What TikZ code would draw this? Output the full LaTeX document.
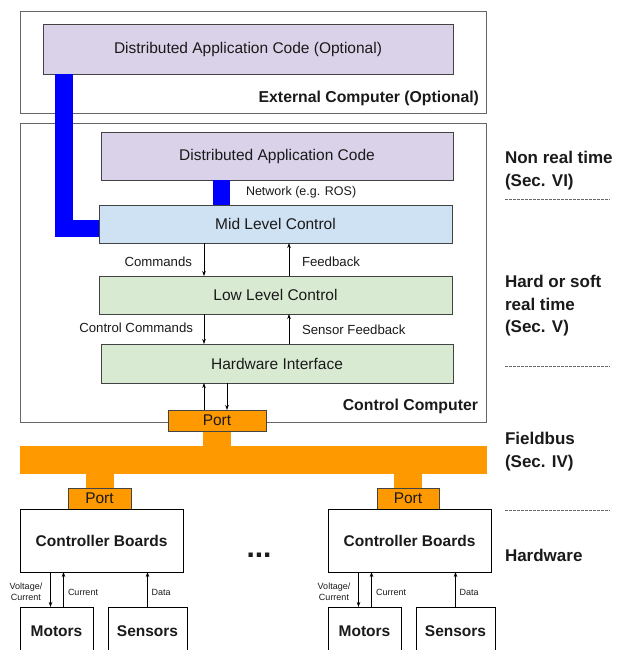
\documentclass[tikz,border=0pt]{standalone}
\usepackage{fontspec}
\setmainfont{Liberation Sans}
\usetikzlibrary{arrows.meta,backgrounds}
\definecolor{purp}{HTML}{D9D2E9}
\definecolor{lblue}{HTML}{CFE2F3}
\definecolor{lgreen}{HTML}{D9EAD3}
\definecolor{orng}{HTML}{FF9900}
\definecolor{bblue}{HTML}{0000FF}
\definecolor{outer}{HTML}{666666}
\definecolor{edge}{HTML}{434343}
\definecolor{txt}{HTML}{1A1A1A}
\begin{document}
\begin{tikzpicture}[x=1pt,y=-1pt,
  every node/.style={inner sep=0pt, outer sep=0pt, text=txt},
  frame/.style={draw=outer, line width=0.8pt, anchor=north west},
  blk/.style={draw=edge, line width=0.8pt, anchor=north west, font=\fontsize{15.5}{18}\selectfont},
  bblk/.style={draw=black, line width=0.9pt, anchor=north west, font=\bfseries\fontsize{15.5}{18}\selectfont},
  portbox/.style={draw=edge, fill=orng, line width=0.8pt, anchor=north west, minimum height=21pt, font=\fontsize{15.5}{18}\selectfont},
  lbl/.style={font=\fontsize{13.2}{15}\selectfont},
  tinylbl/.style={font=\fontsize{9}{10.7}\selectfont, align=center},
  side/.style={anchor=base west, font=\bfseries\fontsize{17}{20}\selectfont},
  frlbl/.style={anchor=east, font=\bfseries\fontsize{15.8}{18}\selectfont},
  arr/.style={draw=black, line width=0.6pt, -{Stealth[length=5pt,width=3.5pt]}},
  net/.style={draw=bblue, line width=17.5pt},
  stem/.style={draw=orng, line width=28pt},
  sep/.style={draw=outer, dash pattern=on 2.5pt off 1.5pt, line width=0.6pt},
]
\useasboundingbox (0,0) rectangle (628,650);
\clip (0,0) rectangle (628,650);

% frames
\node[frame, minimum width=466pt, minimum height=102pt] (ext) at (20,11) {};
\node[frame, minimum width=466pt, minimum height=299pt] (ctrl) at (20,123) {};

% software boxes
\node[blk, fill=purp, minimum width=410pt, minimum height=50pt] (dacopt) at (43,24) {Distributed Application Code (Optional)};
\node[blk, fill=purp, minimum width=352pt, minimum height=48pt] (dac) at (101,132) {Distributed Application Code};
\node[blk, fill=lblue, minimum width=353pt, minimum height=38pt] (mid) at (99,205) {Mid Level Control};
\node[blk, fill=lgreen, minimum width=353pt, minimum height=38pt] (low) at (99,276) {Low Level Control};
\node[blk, fill=lgreen, minimum width=352pt, minimum height=39pt] (hw) at (101,344) {Hardware Interface};

\node[frlbl] (extlbl) at (479,98) {External Computer (Optional)};
\node[frlbl] (ctrllbl) at (478,406) {Control Computer};

% ports and bus
\node[portbox, minimum width=98pt] (port0) at (168,410) {Port};
\node[anchor=north west, fill=orng, minimum width=467pt, minimum height=28pt] (bus) at (20,446) {};
\node[portbox, minimum width=63pt] (port1) at (68,488) {Port};
\node[portbox, minimum width=62pt] (port2) at (377,488) {Port};

% hardware
\node[bblk, minimum width=163pt, minimum height=63pt] (cb1) at (20,509) {Controller Boards};
\node[bblk, minimum width=163pt, minimum height=63pt] (cb2) at (328,509) {Controller Boards};
\node[bblk, minimum width=73pt, minimum height=48pt] (mot1) at (20,607) {Motors};
\node[bblk, minimum width=79pt, minimum height=48pt] (sen1) at (108,607) {Sensors};
\node[bblk, minimum width=73pt, minimum height=48pt] (mot2) at (328,607) {Motors};
\node[bblk, minimum width=79pt, minimum height=48pt] (sen2) at (416,607) {Sensors};
\node[font=\bfseries\fontsize{30}{32}\selectfont] (dots) at (259,555) {...};

% stems (behind)
\begin{scope}[on background layer]
\draw[stem] (port0.south) -- (port0.south |- bus.north);
\draw[stem] (bus.south -| port1.north) -- (port1.north);
\draw[stem] (bus.south -| port2.north) -- (port2.north);
\end{scope}

% network connectors
\coordinate (bl) at (64,228.5);
\coordinate (nb) at (221,0);
\draw[net] (dacopt.south -| bl) |- (mid.west |- bl);
\draw[net, line width=17pt] (dac.south -| nb) -- (mid.north -| nb);

% control arrows
\coordinate (xa) at (204,0);
\coordinate (xb) at (289,0);
\coordinate (xc) at (227,0);
\draw[arr] (mid.south -| xa) -- (low.north -| xa);
\draw[arr] (low.north -| xb) -- (mid.south -| xb);
\draw[arr] (low.south -| xa) -- (hw.north -| xa);
\draw[arr] (hw.north -| xb) -- (low.south -| xb);
\draw[arr] (port0.north -| xa) -- (hw.south -| xa);
\draw[arr] (hw.south -| xc) -- (port0.north -| xc);

\node[lbl, anchor=west, font=\fontsize{12.5}{15}\selectfont] (lnet) at (246,192) {Network (e.g. ROS)};
\node[lbl, anchor=east] (lcmd) at (192,262) {Commands};
\node[lbl, anchor=west] (lfb) at (302,262) {Feedback};
\node[lbl, anchor=east] (lccmd) at (193,328) {Control Commands};
\node[lbl, anchor=west] (lsfb) at (302,330) {Sensor Feedback};

% hardware arrows
\coordinate (h1) at (50.5,0);
\coordinate (h2) at (63.5,0);
\coordinate (h3) at (147.5,0);
\coordinate (h4) at (358.5,0);
\coordinate (h5) at (371.5,0);
\coordinate (h6) at (455.5,0);
\draw[arr] (cb1.south -| h1) -- (mot1.north -| h1);
\draw[arr] (mot1.north -| h2) -- (cb1.south -| h2);
\draw[arr] (sen1.north -| h3) -- (cb1.south -| h3);
\draw[arr] (cb2.south -| h4) -- (mot2.north -| h4);
\draw[arr] (mot2.north -| h5) -- (cb2.south -| h5);
\draw[arr] (sen2.north -| h6) -- (cb2.south -| h6);

\node[tinylbl] (lv1) at (26,591.5) {Voltage/\\Current};
\node[tinylbl, anchor=west] (lc1) at (68,592.5) {Current};
\node[tinylbl, anchor=west] (ld1) at (151.5,592.5) {Data};
\node[tinylbl] (lv2) at (334,591.5) {Voltage/\\Current};
\node[tinylbl, anchor=west] (lc2) at (376,592.5) {Current};
\node[tinylbl, anchor=west] (ld2) at (459.5,592.5) {Data};

% side labels
\node[side] (s1) at (505,163) {Non real time};
\node[side] (s2) at (505,186) {(Sec. VI)};
\node[side] (s3) at (505,287) {Hard or soft};
\node[side] (s4) at (505,310) {real time};
\node[side] (s5) at (505,332) {(Sec. V)};
\node[side] (s6) at (505,444) {Fieldbus};
\node[side] (s7) at (505,467) {(Sec. IV)};
\node[side] (s8) at (505,561) {Hardware};

\draw[sep] (505,199) -- (610,199);
\draw[sep] (505,366) -- (610,366);
\draw[sep] (505,510) -- (610,510);
\end{tikzpicture}
\end{document}
